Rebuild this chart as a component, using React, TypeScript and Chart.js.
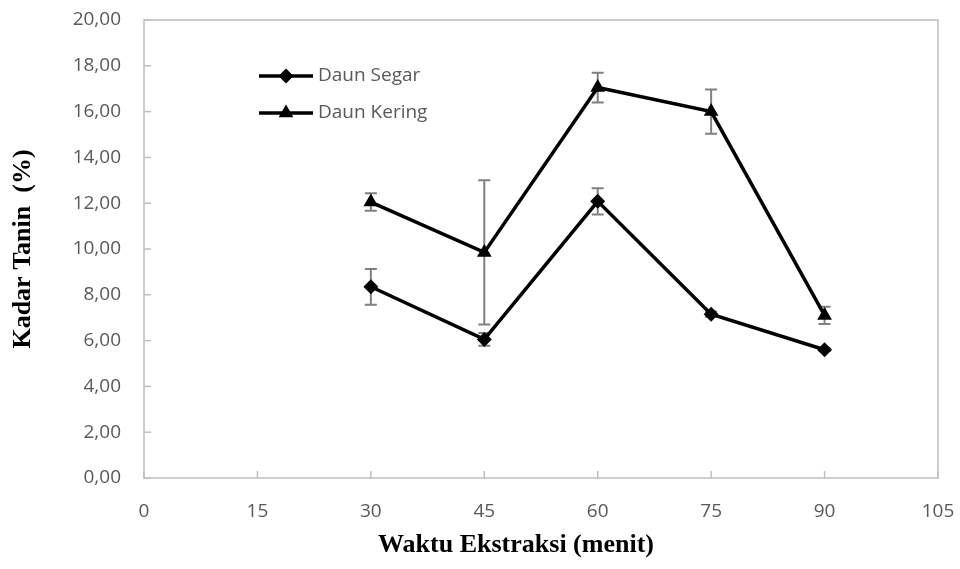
import React, { useEffect, useRef } from "react";
import { Chart, registerables } from "chart.js";

Chart.register(...registerables);

const times = [30, 45, 60, 75, 90];
const segar = [8.35, 6.05, 12.08, 7.15, 5.6];
const segarErr = [0.78, 0.28, 0.57, 0.12, 0.05];
const kering = [12.05, 9.85, 17.05, 16.0, 7.1];
const keringErr = [0.38, 3.15, 0.65, 0.97, 0.38];
const seriesNames = ["Daun Segar", "Daun Kering"];
const xTitle = "Waktu Ekstraksi (menit)";
const yTitle = "Kadar Tanin  (%)";

const TICK_FONT = { family: "'Open Sans', sans-serif", size: 19 };
const TICK_COLOR = "#595959";
const AXIS_COLOR = "#bfbfbf";
const LINE_W = 3.5;

function drawMarker(ctx: CanvasRenderingContext2D, style: string, r: number, x: number, y: number) {
  ctx.beginPath();
  if (style === "rectRot") {
    ctx.moveTo(x, y - r);
    ctx.lineTo(x + r, y);
    ctx.lineTo(x, y + r);
    ctx.lineTo(x - r, y);
  } else {
    ctx.moveTo(x, y - r);
    ctx.lineTo(x + Math.sin(Math.PI / 3) * r, y + r / 2);
    ctx.lineTo(x - Math.sin(Math.PI / 3) * r, y + r / 2);
  }
  ctx.closePath();
  ctx.fill();
}

const framePlugin = {
  id: "frame",
  beforeDatasetsDraw(chart: any) {
    const { ctx, chartArea: a, scales } = chart;
    ctx.save();
    ctx.strokeStyle = AXIS_COLOR;
    ctx.lineWidth = 1.5;
    ctx.strokeRect(a.left, a.top, a.right - a.left, a.bottom - a.top);
    const xs = scales.x;
    const ys = scales.y;
    xs.ticks.forEach((t: any) => {
      const px = xs.getPixelForValue(t.value);
      ctx.beginPath();
      ctx.moveTo(px, a.bottom);
      ctx.lineTo(px, a.bottom - 7);
      ctx.stroke();
    });
    ys.ticks.forEach((t: any) => {
      const py = ys.getPixelForValue(t.value);
      ctx.beginPath();
      ctx.moveTo(a.left, py);
      ctx.lineTo(a.left + 7, py);
      ctx.stroke();
    });
    ctx.strokeStyle = "#808080";
    ctx.lineWidth = 2;
    chart.data.datasets.forEach((ds: any) => {
      const errs = ds.errors as number[];
      ds.data.forEach((p: any, i: number) => {
        const px = xs.getPixelForValue(p.x);
        const top = ys.getPixelForValue(p.y + errs[i]);
        const bot = ys.getPixelForValue(p.y - errs[i]);
        ctx.beginPath();
        ctx.moveTo(px, top);
        ctx.lineTo(px, bot);
        ctx.moveTo(px - 6, top);
        ctx.lineTo(px + 6, top);
        ctx.moveTo(px - 6, bot);
        ctx.lineTo(px + 6, bot);
        ctx.stroke();
      });
    });
    ctx.restore();
  },
  afterDraw(chart: any) {
    const { ctx } = chart;
    ctx.save();
    ctx.fillStyle = "#000";
    ctx.font = "bold 26px 'Liberation Serif', serif";
    ctx.textAlign = "center";
    ctx.textBaseline = "middle";
    ctx.fillText(xTitle, 516, 545);
    const styles = ["rectRot", "triangle"];
    const radii = [7.5, 8.5];
    chart.data.datasets.forEach((ds: any, i: number) => {
      const y = 76 + i * 37;
      ctx.strokeStyle = "#000";
      ctx.lineWidth = LINE_W;
      ctx.beginPath();
      ctx.moveTo(259, y);
      ctx.lineTo(313, y);
      ctx.stroke();
      ctx.fillStyle = "#000";
      drawMarker(ctx, styles[i], radii[i], 286, y);
      ctx.fillStyle = TICK_COLOR;
      ctx.font = "19px 'Open Sans', sans-serif";
      ctx.textAlign = "left";
      ctx.textBaseline = "middle";
      ctx.fillText(ds.label, 318, y);
    });
    ctx.restore();
  },
};

export default function App() {
  const ref = useRef<HTMLCanvasElement>(null);
  useEffect(() => {
    if (!ref.current) return;
    const chart = new Chart(ref.current, {
      type: "line",
      data: {
        datasets: [
          {
            label: seriesNames[0],
            data: times.map((t, i) => ({ x: t, y: segar[i] })),
            errors: segarErr,
            borderColor: "#000",
            backgroundColor: "#000",
            borderWidth: LINE_W,
            pointStyle: "rectRot",
            pointRadius: 7.5,
            pointBorderWidth: 0,
            tension: 0,
          } as any,
          {
            label: seriesNames[1],
            data: times.map((t, i) => ({ x: t, y: kering[i] })),
            errors: keringErr,
            borderColor: "#000",
            backgroundColor: "#000",
            borderWidth: LINE_W,
            pointStyle: "triangle",
            pointRadius: 8.5,
            pointBorderWidth: 0,
            tension: 0,
          } as any,
        ],
      },
      options: {
        responsive: false,
        animation: false,
        devicePixelRatio: 1,
        layout: { padding: { left: 0, right: 22, top: 20, bottom: 0 } },
        plugins: { legend: { display: false }, tooltip: { enabled: false } },
        scales: {
          x: {
            type: "linear",
            min: 0,
            max: 105,
            ticks: { stepSize: 15, color: TICK_COLOR, font: TICK_FONT, padding: 22, maxRotation: 0 },
            grid: { display: false, drawTicks: false },
            border: { display: false },
            afterFit: (s: any) => {
              s.height = 91;
              s.paddingLeft = 0;
              s.paddingRight = 0;
            },
          },
          y: {
            min: 0,
            max: 20,
            ticks: {
              stepSize: 2,
              color: TICK_COLOR,
              font: TICK_FONT,
              padding: 23,
              callback: (v: any) => Number(v).toFixed(2).replace(".", ","),
            },
            grid: { display: false, drawTicks: false },
            border: { display: false },
            title: {
              display: true,
              text: yTitle,
              color: "#000",
              font: { family: "'Liberation Serif', serif", size: 26, weight: "bold" },
              padding: { top: 8, bottom: 0 },
            },
            afterFit: (s: any) => {
              s.width = 144;
              s.paddingTop = 0;
              s.paddingBottom = 0;
            },
          },
        },
      },
      plugins: [framePlugin],
    });
    return () => chart.destroy();
  }, []);
  return (
    <div style={{ position: "absolute", left: 0, top: 0, width: 960, height: 569 }}>
      <canvas ref={ref} width={960} height={569} />
    </div>
  );
}
